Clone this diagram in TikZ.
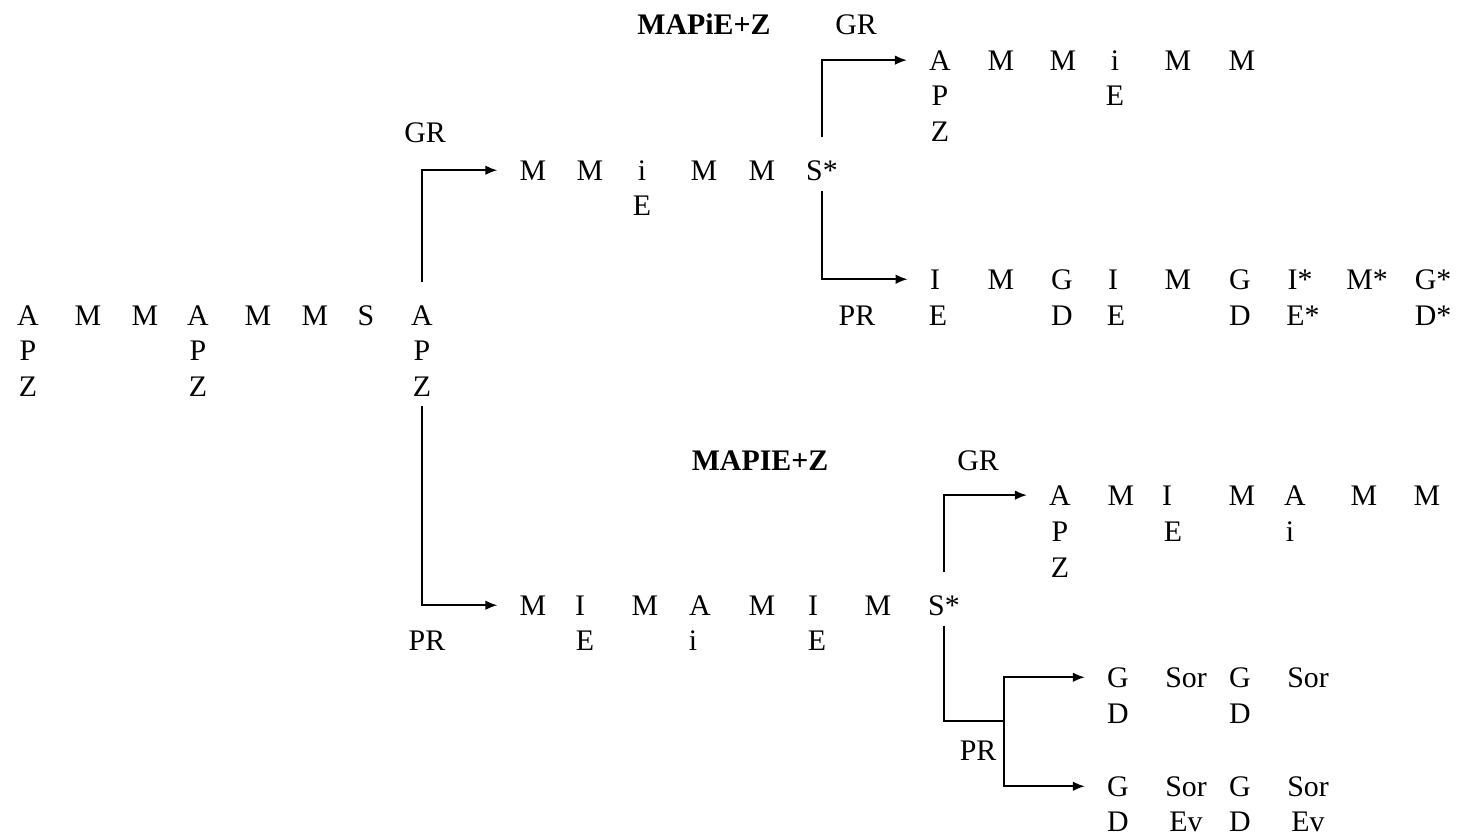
\documentclass[tikz,border=0pt]{standalone}
\usepackage{fontspec}
\setmainfont{Liberation Serif}
\usetikzlibrary{arrows.meta}
\newcommand{\treefont}{\fontsize{17}{20}\selectfont}

\begin{document}
\begin{tikzpicture}[
        x=0.02cm, y=-0.02cm,
        tok/.style={anchor=base, font=\treefont,
            inner xsep=0.44cm, inner ysep=0.2cm},
        lbl/.style={anchor=base, font=\treefont},
        wire/.style={line width=1pt},
        link/.style={wire, -{Latex[length=0.24cm, width=0.19cm]}},
        uplink/.style={link, shorten <=0.25cm}
    ]
    \useasboundingbox (0,0) rectangle (1459,835);

    % root row
    \foreach \t/\x [count=\i] in {A/28, M/88, M/145, A/198, M/258, M/315, S/366, A/422}
        \node[tok] (r\i) at (\x,325) {\t};
    \foreach \x [count=\i] in {28, 198, 422} {
        \node[tok] (rp\i) at (\x,360) {P};
        \node[tok] (rz\i) at (\x,396) {Z};
    }

    % upper branch
    \foreach \t/\x [count=\i] in {M/533, M/590, i/642, M/704, M/762, S*/822}
        \node[tok] (u\i) at (\x,180) {\t};
    \node[tok] (ue1) at (642,215) {E};

    \foreach \t/\x [count=\i] in {A/940, M/1001, M/1063, i/1115, M/1178, M/1242}
        \node[tok] (a\i) at (\x,70) {\t};
    \node[tok] (ap1) at (940,105) {P};
    \node[tok] (ae1) at (1115,105) {E};
    \node[tok] (az1) at (940,141) {Z};

    \foreach \t/\x [count=\i] in {I/935, M/1001, G/1062, I/1113, M/1178, G/1240, I*/1300, M*/1367, G*/1433}
        \node[tok] (g\i) at (\x,289) {\t};
    \foreach \t/\x [count=\i] in {E/938, D/1062, E/1116, D/1240, E*/1303, D*/1433}
        \node[tok] (gl\i) at (\x,325) {\t};

    % lower branch
    \foreach \t/\x [count=\i] in {M/533, I/580, M/645, A/700, M/762, I/813, M/878, S*/944}
        \node[tok] (l\i) at (\x,615) {\t};
    \foreach \t/\x [count=\i] in {E/585, i/693, E/817}
        \node[tok] (ll\i) at (\x,650) {\t};

    \foreach \t/\x [count=\i] in {A/1060, M/1121, I/1167, M/1242, A/1295, M/1364, M/1427}
        \node[tok] (b\i) at (\x,505) {\t};
    \foreach \t/\x [count=\i] in {P/1060, E/1173, i/1290}
        \node[tok] (bl\i) at (\x,541) {\t};
    \node[tok] (bz1) at (1060,577) {Z};

    \foreach \t/\x [count=\i] in {G/1118, Sor/1186, G/1240, Sor/1308} {
        \node[tok] (c\i) at (\x,687) {\t};
        \node[tok] (d\i) at (\x,796) {\t};
    }
    \node[tok] (cl1) at (1118,723) {D};
    \node[tok] (cl2) at (1240,723) {D};
    \foreach \t/\x [count=\i] in {D/1118, Ev/1186, D/1240, Ev/1308}
        \node[tok] (dl\i) at (\x,831) {\t};

    % labels
    \node[lbl] (gr1) at (425,142) {GR};
    \node[lbl] (pr1) at (427,650) {PR};
    \node[lbl, font=\treefont\bfseries] (mp1) at (704,34) {MAPiE+Z};
    \node[lbl] (gr2) at (856,34) {GR};
    \node[lbl] (pr2) at (857,325) {PR};
    \node[lbl, font=\treefont\bfseries] (mp2) at (760,470) {MAPIE+Z};
    \node[lbl] (gr3) at (978,470) {GR};
    \node[lbl] (pr3) at (978,760) {PR};

    % connectors
    \coordinate (split) at (1004,721);
    \draw[uplink] (r8) |- (u1);
    \draw[link] (rz3) |- (l1);
    \draw[uplink] (u6) |- (a1);
    \draw[link] (u6) |- (g1);
    \draw[uplink] (l8) |- (b1);
    \draw[wire] (l8) |- (split);
    \draw[link] (split) |- (c1);
    \draw[link] (split) |- (d1);

\end{tikzpicture}
\end{document}
